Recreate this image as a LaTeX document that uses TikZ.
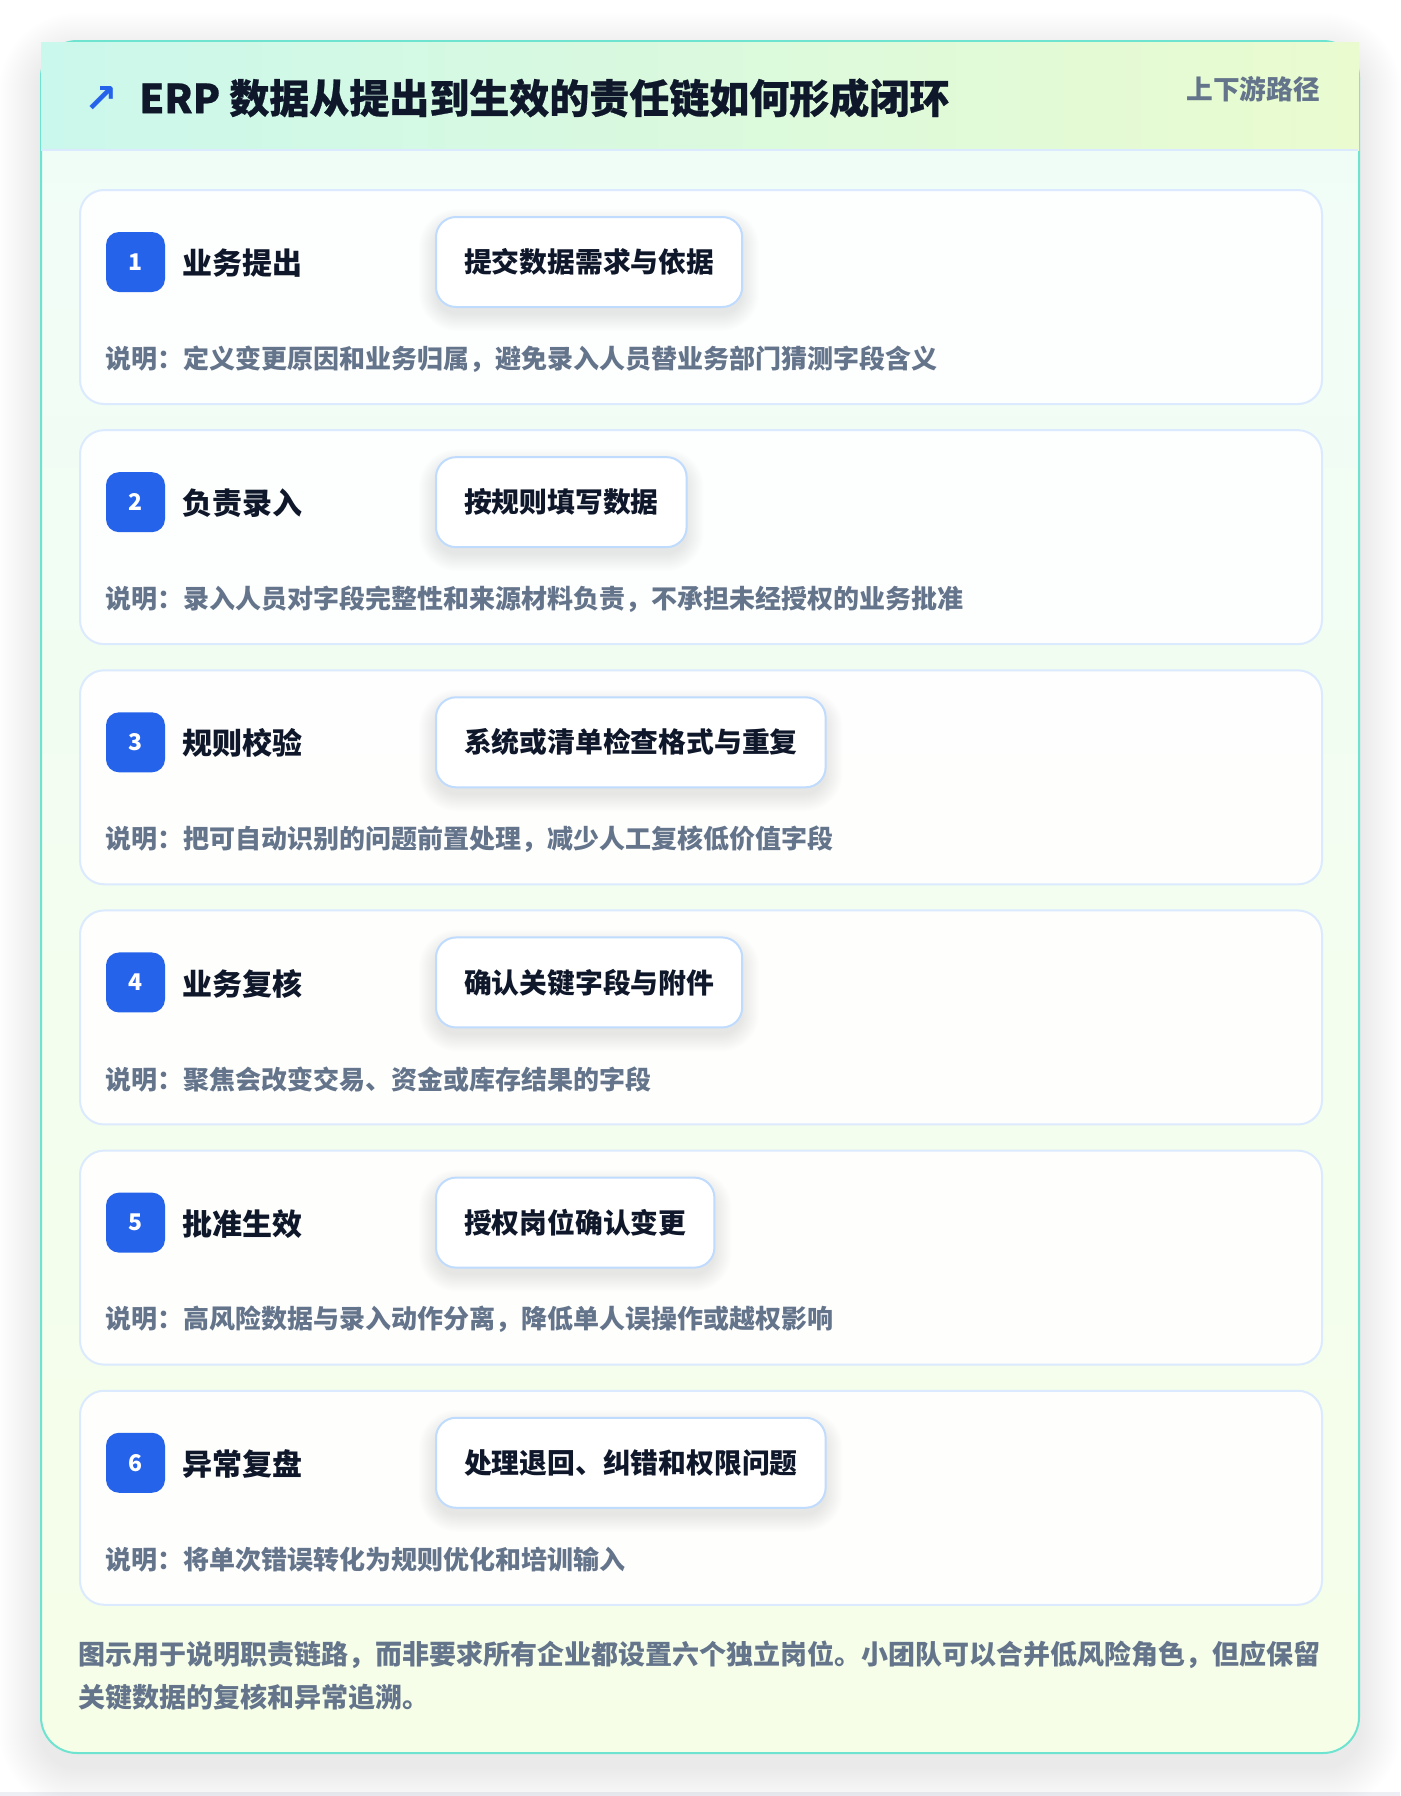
\documentclass[tikz,border=0pt]{standalone}
\usepackage{fontspec}
\setmainfont{Noto Sans CJK SC}
\newfontfamily\heavyfont{Noto Sans CJK SC}[BoldFeatures={FakeBold=0.6}]
\newfontfamily\symfont{DejaVu Sans}
\definecolor{ink}{HTML}{0F172A}
\definecolor{muted}{HTML}{64748B}
\definecolor{accent}{HTML}{2563EB}
\definecolor{pillline}{HTML}{BFDBFE}
\definecolor{cardline}{HTML}{DBEAFE}
\definecolor{teal}{HTML}{6EE3D0}
\definecolor{hdrL}{HTML}{CBF8EC}
\definecolor{hdrR}{HTML}{EAFBCF}
\definecolor{bodyT}{HTML}{F0FDF8}
\definecolor{bodyB}{HTML}{F6FEE8}
\definecolor{strip}{HTML}{EDEFF4}
\definecolor{shadowc}{HTML}{1E293B}
\pgfdeclarelayer{back}
\pgfdeclarelayer{mid}
\pgfsetlayers{back,mid,main}
% soft shadow: #1,#2 = x1,y1 ; #3,#4 = x2,y2 ; #5 radius ; #6 spread ; #7 y offset ; #8 opacity per layer ; #9 layers
\newcommand\mysoftshadow[9]{%
  \foreach \k in {1,...,#9}{%
    \pgfmathsetmacro\ee{#6*\k/#9}%
    \pgfmathsetmacro\rr{#5+\ee}%
    \fill[shadowc, opacity=#8, rounded corners=\rr pt]
      ({#1-\ee},{#2-\ee+#7}) rectangle ({#3+\ee},{#4+\ee+#7});
  }%
}
\tikzset{
  stepcard/.style={draw=cardline, line width=2pt, fill=white, fill opacity=0.92,
    rounded corners=24pt, minimum width=1242pt, minimum height=214pt,
    anchor=north west, inner sep=0pt},
  badge/.style={fill=accent, rounded corners=13pt, minimum width=59pt, minimum height=60pt,
    inner sep=0pt, text=white, font=\bfseries\fontsize{23}{23}\selectfont},
  steplabel/.style={anchor=west, inner sep=0pt, text=ink, font=\bfseries\fontsize{30}{34}\selectfont},
  pill/.style={draw=pillline, line width=2pt, fill=white, rounded corners=20pt,
    minimum height=90pt, inner xsep=28pt, inner ysep=0pt, anchor=west, text=ink,
    font=\bfseries\fontsize{27.8}{32}\selectfont},
  desc/.style={anchor=west, inner sep=0pt, text=muted, font=\bfseries\fontsize{26}{30}\selectfont},
  foot/.style={anchor=west, inner sep=0pt, text=muted, font=\bfseries\fontsize{27}{32}\selectfont}
}
\begin{document}
\begin{tikzpicture}[x=1pt,y=-1pt]
\useasboundingbox (0,0) rectangle (1400,1796);
\begin{pgfonlayer}{back}
\fill[white] (0,0) rectangle (1400,1796);
\fill[strip] (0,1792) rectangle (1400,1796);
% card shadow
\mysoftshadow{41}{41}{1359}{1753}{36}{42}{14}{0.0035}{21}
% card body
\shade[top color=bodyT, bottom color=bodyB, rounded corners=36pt] (41,41) rectangle (1359,1753);
\draw[teal, line width=2pt, rounded corners=36pt] (41,41) rectangle (1359,1753);
% header
\shade[left color=hdrL, right color=hdrR] (41,42) rectangle (1359,150);
\draw[cardline, line width=2.5pt] (42,150) -- (1358,150);
\end{pgfonlayer}
\node[anchor=center, inner sep=0pt, text=accent, font=\symfont\bfseries\fontsize{40}{40}\selectfont] (arrow) at (101.5,100) {↗};
\node[anchor=west, inner sep=0pt, text=ink, font=\heavyfont\bfseries\fontsize{40}{44}\selectfont] (title) at (139,98) {ERP 数据从提出到生效的责任链如何形成闭环};
\node[anchor=east, inner sep=0pt, text=muted, font=\bfseries\fontsize{26.7}{30}\selectfont] (tag) at (1320,89) {上下游路径};
% steps
\foreach \i/\lab/\pilltext/\desctext in {
  1/业务提出/提交数据需求与依据/说明：定义变更原因和业务归属，避免录入人员替业务部门猜测字段含义,
  2/负责录入/按规则填写数据/说明：录入人员对字段完整性和来源材料负责，不承担未经授权的业务批准,
  3/规则校验/系统或清单检查格式与重复/说明：把可自动识别的问题前置处理，减少人工复核低价值字段,
  4/业务复核/确认关键字段与附件/说明：聚焦会改变交易、资金或库存结果的字段,
  5/批准生效/授权岗位确认变更/说明：高风险数据与录入动作分离，降低单人误操作或越权影响,
  6/异常复盘/处理退回、纠错和权限问题/说明：将单次错误转化为规则优化和培训输入}{
  \pgfmathsetmacro\ytop{189+240.15*(\i-1)}
  \begin{pgfonlayer}{back}
    \node[stepcard] (step\i) at (79,\ytop) {};
  \end{pgfonlayer}
  \node[badge] (badge\i) at (135.5,\ytop+73) {\i};
  \node[steplabel] (label\i) at (182,\ytop+74) {\lab};
  \node[pill] (pill\i) at (435,\ytop+73) {\pilltext};
  \path (pill\i.south east);
  \pgfgetlastxy{\px}{\py}
  \pgfmathsetmacro\pxx{\px}
  \begin{pgfonlayer}{mid}
    \mysoftshadow{437}{\ytop+30}{\pxx-2}{\ytop+116}{20}{18}{8}{0.006}{12}
  \end{pgfonlayer}
  \node[desc] (desc\i) at (105,\ytop+170) {\desctext};
}
% footer
\node[foot] (foot1) at (78,1655) {图示用于说明职责链路，而非要求所有企业都设置六个独立岗位。小团队可以合并低风险角色，但应保留};
\node[foot] (foot2) at (78,1697) {关键数据的复核和异常追溯。};
\end{tikzpicture}
\end{document}
